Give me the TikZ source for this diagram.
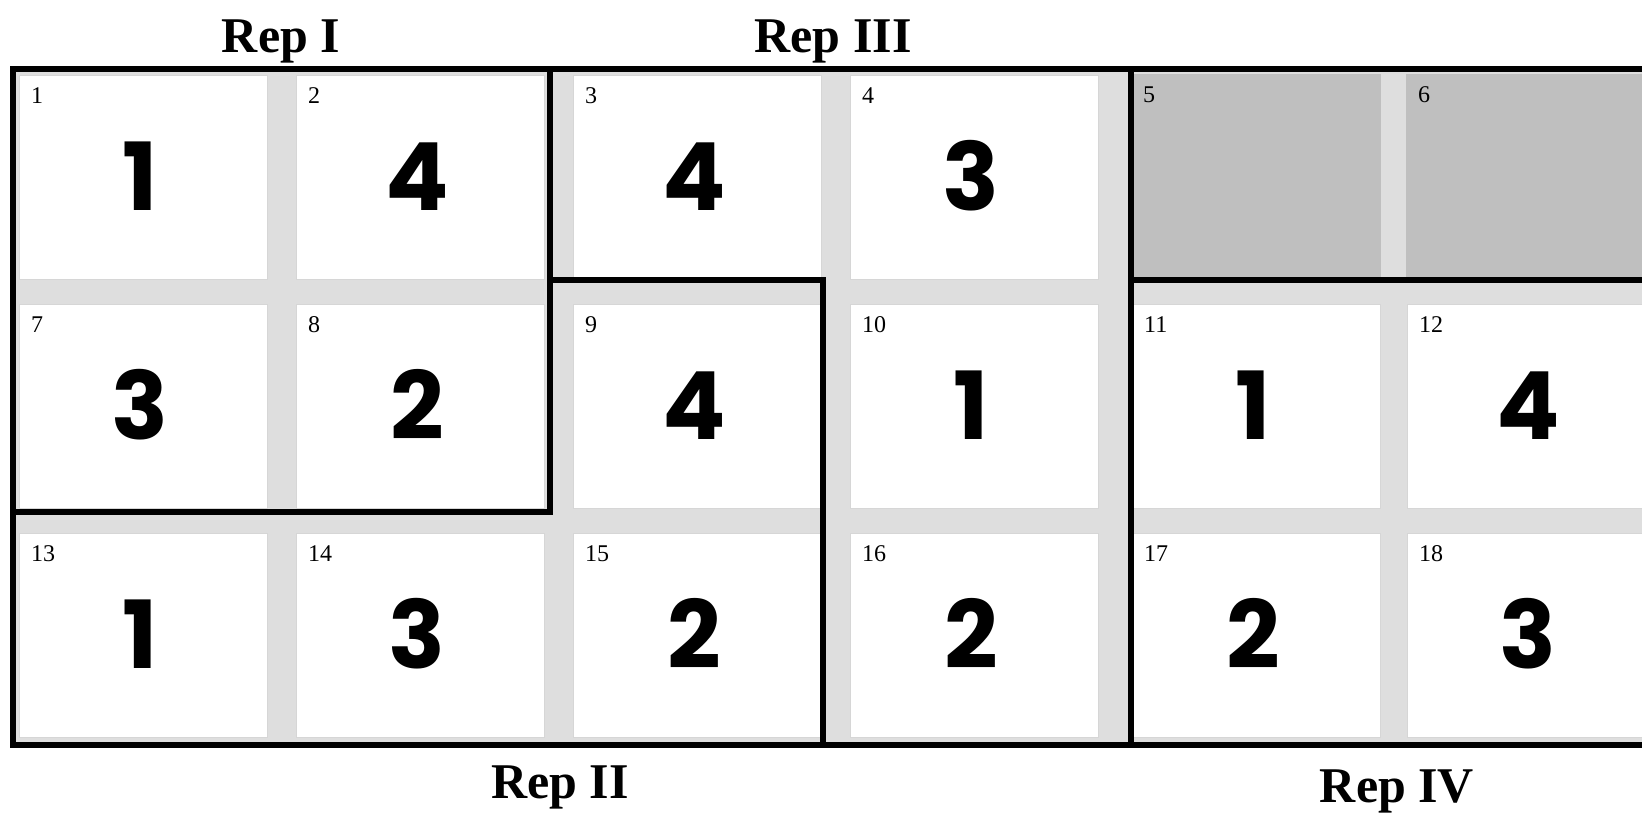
\documentclass[tikz,border=0pt]{standalone}
\usepackage{fontspec}
\setmainfont{Liberation Serif}
\newfontfamily\digitfont{Poppins}
\definecolor{gapgrey}{RGB}{222,222,222}
\definecolor{plotgrey}{RGB}{191,191,191}
\definecolor{edgegrey}{RGB}{214,214,214}
\tikzset{
  plotcell/.style={draw=edgegrey, line width=1pt, fill=white, minimum width=248pt, minimum height=204pt, inner sep=0pt, outer sep=0pt, anchor=north west},
  emptycell/.style={fill=plotgrey, minimum width=250pt, minimum height=206pt, inner sep=0pt, outer sep=0pt, anchor=north west},
  plotnum/.style={anchor=base west, inner sep=0pt, font=\fontsize{24}{24}\selectfont},
  trt/.style={anchor=base, inner sep=0pt, font=\digitfont\bfseries\fontsize{94}{94}\selectfont},
  repline/.style={line width=6pt, line join=miter, line cap=butt},
  replabel/.style={anchor=base, inner sep=0pt, font=\bfseries\fontsize{50}{50}\selectfont}
}
\begin{document}
\begin{tikzpicture}[x=1pt,y=-1pt]
\useasboundingbox (0,0) rectangle (1642,812);
\clip (0,0) rectangle (1642,812);
% background of the field
\fill[gapgrey] (13,69) rectangle (1670,744.7);
% plots with treatments
\foreach \n/\cx/\ry/\t in {1/18/74/1, 2/295/74/4, 3/572/74/4, 4/849/74/3,
  7/18/303/3, 8/295/303/2, 9/572/303/4, 10/849/303/1, 11/1131/303/1, 12/1406/303/4,
  13/18/532/1, 14/295/532/3, 15/572/532/2, 16/849/532/2, 17/1131/532/2, 18/1406/532/3}{
  \node[plotcell] (c\n) at (\cx+1,\ry+1) {};
  \node[plotnum] (n\n) at ([xshift=12pt,yshift=-28pt]c\n.north west) {\n};
  \node[trt] (t\n) at ([xshift=-3pt,yshift=-33pt]c\n.center) {\t};
}
% unused plots
\foreach \n/\cx in {5/1131, 6/1406}{
  \node[emptycell] (c\n) at (\cx,74) {};
  \node[plotnum] (n\n) at ([xshift=12pt,yshift=-28pt]c\n.north west) {\n};
}
% replicate boundaries
\draw[repline] (1670,69) -- (13,69) -- (13,744.7) -- (1670,744.7);
\draw[repline] (550,69) -- (550,511.5) -- (13,511.5);
\draw[repline] (550,280) -- (823,280) -- (823,744.7);
\draw[repline] (1131,69) -- (1131,744.7);
\draw[repline] (1131,280) -- (1670,280);
% labels
\node[replabel] (r1) at (281,52) {Rep I};
\node[replabel] (r3) at (833,52) {Rep III};
\node[replabel] (r2) at (560,798) {Rep II};
\node[replabel] (r4) at (1397,802) {Rep IV};
\end{tikzpicture}
\end{document}
